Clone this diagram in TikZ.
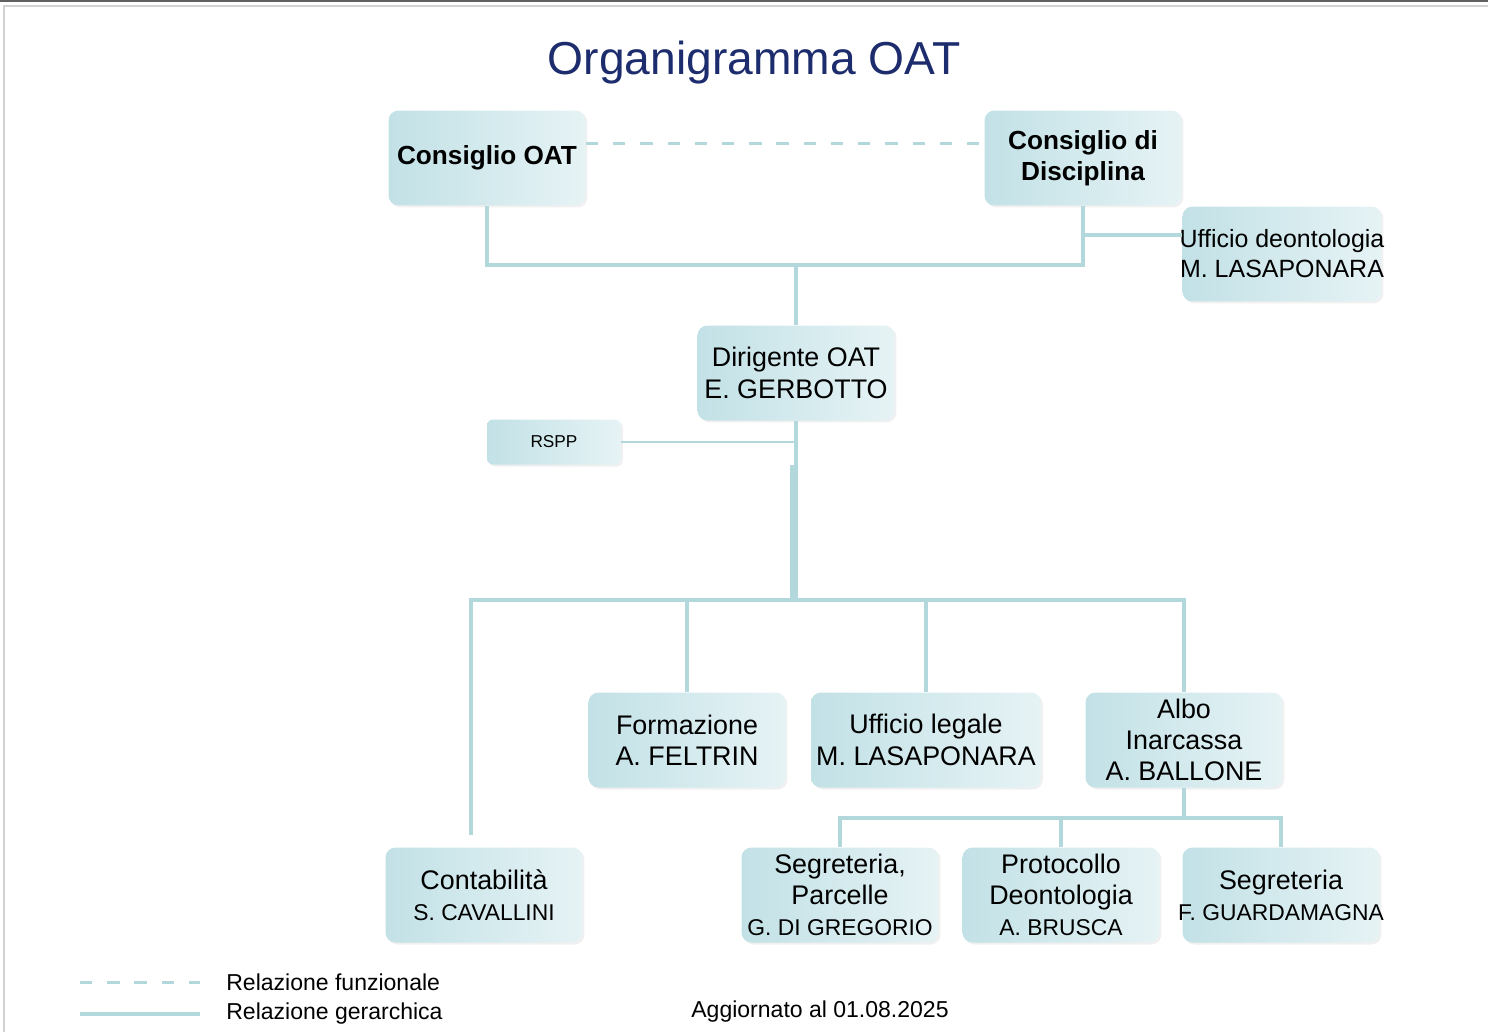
\documentclass[tikz,border=0pt]{standalone}
\usepackage{fontspec}
\setmainfont{Liberation Sans}
\usetikzlibrary{shadows}
\definecolor{linkteal}{HTML}{B2D8DC}
\definecolor{boxdark}{HTML}{C2E1E6}
\definecolor{boxlight}{HTML}{E6F3F5}
\definecolor{titlenavy}{HTML}{1C2C6C}
\newcommand{\nm}[1]{{\fontsize{13}{15}\selectfont #1}}
\newcommand{\spill}[1]{\makebox[0pt]{#1}}
\begin{document}
\begin{tikzpicture}[x=0.02cm, y=-0.02cm, font=\fontsize{15.3}{17.8}\selectfont]
	\tikzset{box/.style={rounded corners=0.2cm, left color=boxdark, right color=boxlight, draw=none,
			minimum width=3.94cm, minimum height=1.9cm, inner sep=0pt, align=center,
			drop shadow={opacity=0.12, shadow xshift=0.04cm, shadow yshift=-0.04cm}},
		hier/.style={draw=linkteal, line width=2.8pt},
		func/.style={draw=linkteal, line width=1.7pt, dash pattern=on 7pt off 8.5pt},
		note/.style={font=\fontsize{13.1}{15}\selectfont, anchor=west, inner sep=0pt}}
	\useasboundingbox (0,0) rectangle (1488,1032);
	\fill[gray!75!black] (0,0) rectangle (1488,2);
	\draw[gray!35, line width=0.6pt] (4,1032) |- (1488,6);
	\node[font=\fontsize{26.3}{30}\selectfont, text=titlenavy] (title) at (754,63) {Organigramma OAT};
	% boxes
	\node[box, font=\fontsize{14.9}{17.8}\selectfont\bfseries] (consiglio) at (487,158) {Consiglio OAT};
	\node[box, font=\fontsize{14.9}{17.8}\selectfont\bfseries] (disciplina) at (1083,158) {Consiglio di\\Disciplina};
	\node[box, minimum width=3.98cm, font=\fontsize{14.2}{17}\selectfont] (deonto) at (1282,254) {\spill{Ufficio deontologia}\\\spill{M. LASAPONARA}};
	\node[box] (dirigente) at (796,373) {Dirigente OAT\\E. GERBOTTO};
	\node[box, minimum width=2.68cm, minimum height=0.9cm, rounded corners=0.12cm, font=\fontsize{9.8}{12}\selectfont] (rspp) at (554,442) {RSPP};
	\node[box] (formazione) at (687,740) {Formazione\\A. FELTRIN};
	\node[box, minimum width=4.6cm] (legale) at (926,740) {Ufficio legale\\M. LASAPONARA};
	\node[box] (albo) at (1184,740) {Albo\\Inarcassa\\A. BALLONE};
	\node[box] (contab) at (484,895) {Contabilità\\\nm{S. CAVALLINI}};
	\node[box] (segrparc) at (840,895) {Segreteria,\\Parcelle\\\nm{G. DI GREGORIO}};
	\node[box] (protocollo) at (1061,895) {Protocollo\\Deontologia\\\nm{A. BRUSCA}};
	\node[box] (segrguard) at (1281,895) {Segreteria\\\spill{\nm{F. GUARDAMAGNA}}};
	% links
	\coordinate (topbar) at (796,265);
	\coordinate (deojoin) at (1083,235);
	\coordinate (midbar) at (796,600);
	\coordinate (trunk) at (792,465);
	\coordinate (cleft) at (471,600);
	\coordinate (cend) at (471,835);
	\coordinate (lowbar) at (1184,818);
	\draw[func] ([yshift=0.3cm]consiglio.east) -- ([yshift=0.3cm]disciplina.west);
	\draw[hier] (consiglio.south) |- (topbar) -| (disciplina.south);
	\draw[hier] (topbar) -- (dirigente.north);
	\draw[hier] (deojoin) -- (deojoin -| deonto.west);
	\draw[draw=linkteal, line width=2.2pt] (dirigente.south) -- (midbar);
	\draw[draw=linkteal, line width=2.6pt] (trunk) -- (trunk |- midbar);
	\draw[draw=linkteal, line width=0.6pt] (rspp.east) -- (rspp.east -| dirigente.south);
	\draw[hier] (cend) -- (cleft) -| (albo.north);
	\foreach \n in {formazione, legale}
		\draw[hier] (\n.north) -- (\n.north |- midbar);
	\draw[hier] (albo.south) -- (lowbar);
	\draw[hier] (segrparc.north) |- (lowbar) -| (segrguard.north);
	\draw[hier] (protocollo.north) -- (protocollo.north |- lowbar);
	% legend
	\coordinate (fa) at (80,982);
	\coordinate (fb) at (200,982);
	\coordinate (ga) at (80,1014);
	\coordinate (gb) at (200,1014);
	\draw[func] (fa) -- (fb);
	\draw[hier] (ga) -- (gb);
	\node[note] (lfunz) at (226,982) {Relazione funzionale};
	\node[note] (lgerar) at (226,1014) {Relazione gerarchica};
	\node[note, anchor=center] (agg) at (820,1012) {Aggiornato al 01.08.2025};
\end{tikzpicture}
\end{document}
